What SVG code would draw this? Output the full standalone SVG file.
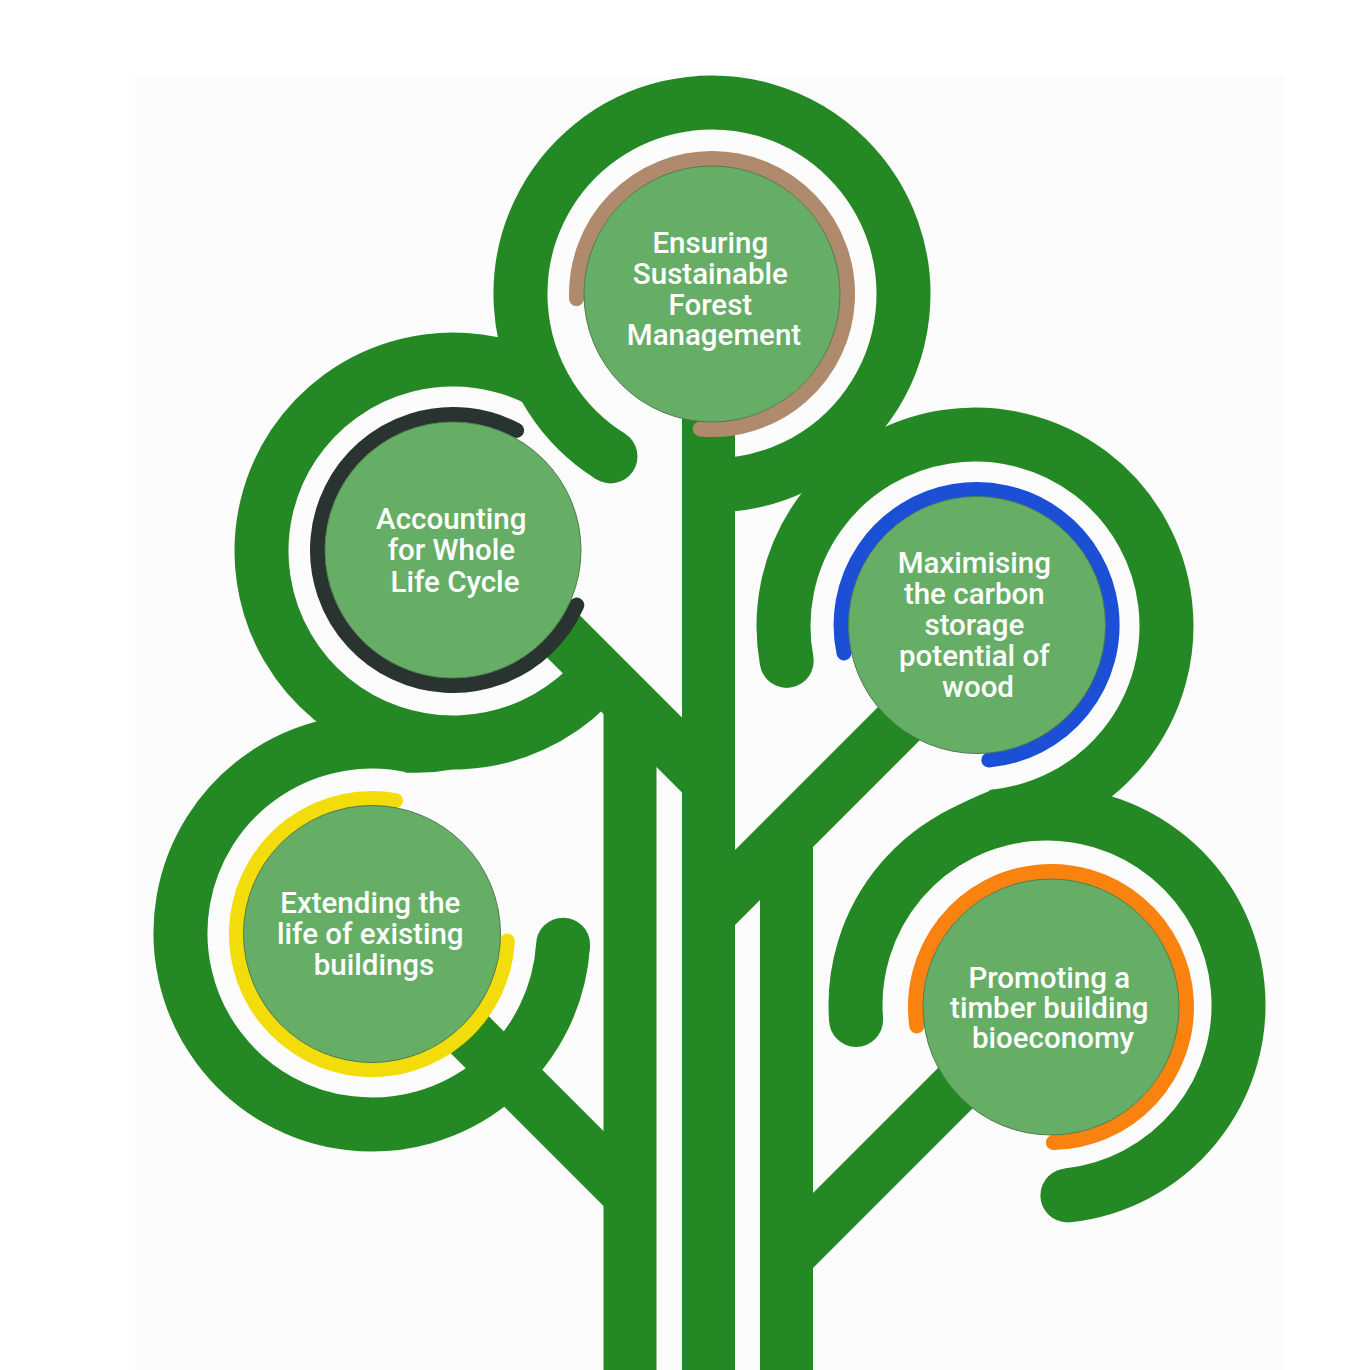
<svg xmlns="http://www.w3.org/2000/svg" width="1370" height="1370" viewBox="0 0 1370 1370">
  <style>
    .ring { fill: none; stroke: #248924; stroke-width: 54; stroke-linecap: butt; }
    .cap { fill: #248924; }
    .branch { fill: none; stroke: #248924; stroke-width: 53; stroke-linecap: butt; }
    .stem { fill: #248924; }
    .accent { fill: none; stroke-width: 15; stroke-linecap: round; }
    .disc { fill: #66AE66; stroke: #4E7A4E; stroke-width: 1; }
    .label { font-family: Roboto, "Liberation Sans", "DejaVu Sans", sans-serif; font-weight: 500; font-size: 29.5px; fill: #FFFFFF; text-anchor: middle; }
  </style>
  <rect x="0" y="0" width="1370" height="1370" fill="#FFFFFF"/>
  <rect x="135" y="75" width="1150" height="1295" fill="#FCFCFC"/>

  <g id="connectors">
    <rect class="stem" x="603.5" y="703" width="53" height="667"/>
    <rect class="stem" x="682" y="400" width="53" height="970"/>
    <rect class="stem" x="760" y="836" width="53" height="534"/>
    <line class="branch" x1="470" y1="543" x2="710" y2="783"/>
    <line class="branch" x1="400" y1="965" x2="630" y2="1195"/>
    <line class="branch" x1="930" y1="692.5" x2="708.5" y2="914"/>
    <line class="branch" x1="1000" y1="1043.5" x2="786.5" y2="1257"/>
    <path class="ring" d="M 610.5 456.4 A 191.5 191.5 0 1 1 712 485.5"/>
    <path class="ring" d="M 588.4 686.4 A 191.5 191.5 0 1 1 542.9 381.9"/>
    <path class="ring" d="M 786.7 660.9 A 191.5 191.5 0 1 1 991.7 816.8"/>
    <path class="ring" d="M 563.1 944.7 A 191.5 191.5 0 1 1 415.1 746.4"/>
    <path class="ring" d="M 856.1 1020 A 191.5 191.5 0 1 1 1067.4 1195.4"/>
    <circle class="cap" cx="610.5" cy="456.4" r="27"/>
    <circle class="cap" cx="786.7" cy="660.9" r="27"/>
    <circle class="cap" cx="563.1" cy="944.7" r="27"/>
    <circle class="cap" cx="856.1" cy="1020" r="27"/>
    <circle class="cap" cx="1067.4" cy="1195.4" r="27"/>
    <path class="cap" d="M 405 772.4 Q 428 774 452 769.4 L 452 745 L 405 745 Z"/>
    <path class="cap" d="M 993 789.4 Q 965 800.5 940 814.5 L 940 830 L 996 830 Z"/>
  </g>

  <g id="node-forest">
    <path class="accent" stroke="#B08A6C" d="M 576.6 298.7 A 135.5 135.5 0 1 1 700.2 429"/>
    <circle class="disc" cx="712" cy="294" r="128"/>
    <text class="label">
      <tspan x="714" y="253">Ensuring</tspan>
      <tspan x="714" y="284">Sustainable</tspan>
      <tspan x="714" y="315">Forest</tspan>
      <tspan x="714" y="345">Management</tspan>
    </text>
  </g>

  <g id="node-lifecycle">
    <path class="accent" stroke="#293330" d="M 576.8 605.1 A 135.5 135.5 0 1 1 516.6 430.4"/>
    <circle class="disc" cx="453" cy="550" r="128"/>
    <text class="label">
      <tspan x="455" y="529">Accounting</tspan>
      <tspan x="455" y="560">for Whole</tspan>
      <tspan x="455" y="592">Life Cycle</tspan>
    </text>
  </g>

  <g id="node-carbon">
    <path class="accent" stroke="#1A4FD6" d="M 844 653 A 135.5 135.5 0 1 1 988.8 760"/>
    <circle class="disc" cx="977" cy="625" r="128.5"/>
    <text class="label">
      <tspan x="978" y="573">Maximising</tspan>
      <tspan x="978" y="604">the carbon</tspan>
      <tspan x="978" y="635">storage</tspan>
      <tspan x="978" y="666">potential of</tspan>
      <tspan x="978" y="697">wood</tspan>
    </text>
  </g>

  <g id="node-existing">
    <path class="accent" stroke="#F2DC0A" d="M 507.3 941.1 A 135.5 135.5 0 1 1 395.5 800.6"/>
    <circle class="disc" cx="372" cy="934" r="128.5"/>
    <text class="label">
      <tspan x="374" y="913">Extending the</tspan>
      <tspan x="374" y="944">life of existing</tspan>
      <tspan x="374" y="975">buildings</tspan>
    </text>
  </g>

  <g id="node-bioeconomy">
    <path class="accent" stroke="#FA820F" d="M 916.8 1025.9 A 135.5 135.5 0 1 1 1053.4 1142.5"/>
    <circle class="disc" cx="1051" cy="1007" r="128"/>
    <text class="label">
      <tspan x="1053" y="988">Promoting a</tspan>
      <tspan x="1053" y="1018">timber building</tspan>
      <tspan x="1053" y="1048">bioeconomy</tspan>
    </text>
  </g>
</svg>
